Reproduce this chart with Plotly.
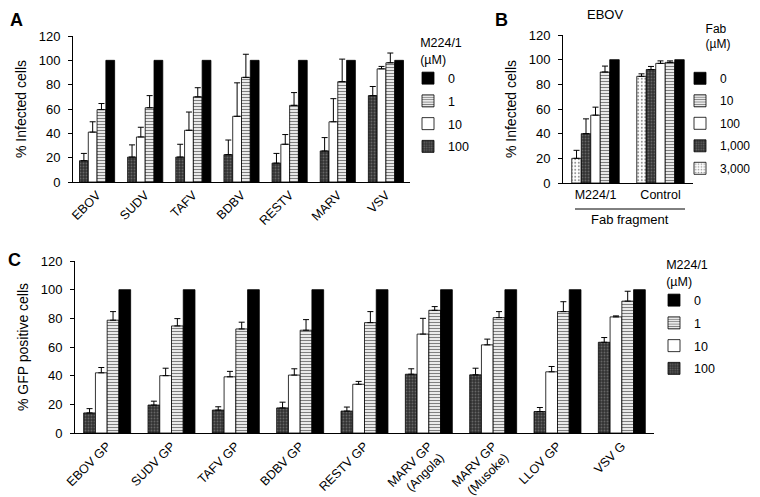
import plotly.graph_objects as go

W, H = 760, 497
FONT = "Liberation Sans, Arial, sans-serif"

# ---------------- Panel A data ----------------
a_cats = ["EBOV", "SUDV", "TAFV", "BDBV", "RESTV", "MARV", "VSV"]
a_100 = [17.5, 20.5, 20.5, 22.5, 15.5, 25.5, 71]
a_100_err = [6, 10, 10.5, 12, 8, 11, 7.5]
a_10 = [41, 37, 42.5, 54, 31, 49.5, 93]
a_10_err = [8.5, 8, 15, 27.5, 8, 19, 2]
a_1 = [59.5, 61, 70, 86, 63, 82.5, 98]
a_1_err = [5, 10, 7.5, 19, 10.5, 18.5, 8]
a_0 = [100, 100, 100, 100, 100, 100, 100]

# ---------------- Panel B data ----------------
b_cats = ["M224/1", "Control"]
b_3000 = [20, 86.5]
b_3000_err = [6.5, 2]
b_1000 = [40, 92]
b_1000_err = [12, 2.5]
b_100 = [55, 97]
b_100_err = [6.5, 2]
b_10 = [90, 97.8]
b_10_err = [4.8, 1.2]
b_0 = [100, 100]

# ---------------- Panel C data ----------------
c_cats = ["EBOV GP", "SUDV GP", "TAFV GP", "BDBV GP", "RESTV GP",
          "MARV GP<br>(Angola)", "MARV GP<br>(Musoke)", "LLOV GP", "VSV G"]
c_100 = [14, 19.5, 16, 17.5, 15.3, 41, 40.6, 15, 63.3]
c_100_err = [3, 2.7, 2.3, 4, 2.8, 3.8, 4.6, 2.8, 3.3]
c_10 = [42, 40, 39.2, 40.4, 34, 69, 61.5, 42.7, 81]
c_10_err = [3.7, 5.2, 3.8, 4.4, 2, 11, 4, 3.7, 0.7]
c_1 = [78.7, 74.7, 72.6, 71.7, 77, 85.6, 80.5, 84.7, 92]
c_1_err = [6, 5.1, 4.7, 7.4, 7.7, 2.6, 4.2, 6.9, 6.9]
c_0 = [100, 100, 100, 100, 100, 100, 100, 100, 100]


def fx(p):
    return p / W


def fy(p):
    return 1 - p / H


STYLES = {
    "black": dict(color="black"),
    "stripe": dict(color="white", pattern=dict(shape="-", fgcolor="black", bgcolor="white",
                                                 size=3, solidity=0.45)),
    "white": dict(color="white"),
    "dark": dict(color="#333333", pattern=dict(shape=".", fgcolor="#999999", bgcolor="#333333",
                                                size=3, solidity=0.3)),
    "dots": dict(color="white", pattern=dict(shape=".", fgcolor="#222222", bgcolor="white",
                                              size=3.5, solidity=0.25)),
}

fig = go.Figure()


def add_bar(x, y, err, name, style, xa, ya, legend, rank):
    marker = dict(STYLES[style])
    marker["line"] = dict(color="black", width=0.8)
    kw = {}
    if err is not None:
        kw["error_y"] = dict(type="data", symmetric=False, array=err,
                             arrayminus=[0] * len(err), color="black",
                             thickness=1, width=3)
    fig.add_trace(go.Bar(x=x, y=y, name=name, marker=marker, xaxis=xa, yaxis=ya,
                         legend=legend, legendgroup=legend + name, legendrank=rank, **kw))


# Panel A
add_bar(a_cats, a_100, a_100_err, "100", "dark", "x", "y", "legend", 4)
add_bar(a_cats, a_10, a_10_err, "10", "white", "x", "y", "legend", 3)
add_bar(a_cats, a_1, a_1_err, "1", "stripe", "x", "y", "legend", 2)
add_bar(a_cats, a_0, None, "0", "black", "x", "y", "legend", 1)

# Panel B
add_bar(b_cats, b_3000, b_3000_err, "3,000", "dots", "x2", "y2", "legend2", 5)
add_bar(b_cats, b_1000, b_1000_err, "1,000", "dark", "x2", "y2", "legend2", 4)
add_bar(b_cats, b_100, b_100_err, "100", "white", "x2", "y2", "legend2", 3)
add_bar(b_cats, b_10, b_10_err, "10", "stripe", "x2", "y2", "legend2", 2)
add_bar(b_cats, b_0, None, "0", "black", "x2", "y2", "legend2", 1)

# Panel C
add_bar(c_cats, c_100, c_100_err, "100", "dark", "x3", "y3", "legend3", 4)
add_bar(c_cats, c_10, c_10_err, "10", "white", "x3", "y3", "legend3", 3)
add_bar(c_cats, c_1, c_1_err, "1", "stripe", "x3", "y3", "legend3", 2)
add_bar(c_cats, c_0, None, "0", "black", "x3", "y3", "legend3", 1)

titlefont = dict(family=FONT, size=14, color="black")


def xax(domain, anchor, angle):
    return dict(domain=domain, anchor=anchor, showline=True, linecolor="black", linewidth=1,
                ticks="", showgrid=False, tickfont=dict(family=FONT, size=12.5, color="black"),
                tickangle=angle, zeroline=False, automargin=False)


def yax(domain, anchor, title):
    return dict(domain=domain, anchor=anchor, range=[0, 120], dtick=20, showline=True,
                linecolor="black", linewidth=1, ticks="outside", ticklen=4, tickcolor="black",
                showgrid=False, zeroline=False, tickfont=dict(family=FONT, size=13, color="black"),
                ticklabelstandoff=5, automargin=False,
                title=dict(text=title, font=titlefont, standoff=8))


def leg(x, y, title, size=12.5):
    return dict(x=fx(x), y=fy(y), xanchor="left", yanchor="top", bgcolor="rgba(0,0,0,0)",
                font=dict(family=FONT, size=size, color="black"),
                title=dict(text=title, side="top center",
                           font=dict(family=FONT, size=size, color="black")),
                traceorder="grouped", tracegroupgap=3.5, itemwidth=30)


fig.update_layout(
    width=W, height=H,
    margin=dict(l=0, r=0, t=0, b=0, autoexpand=False),
    paper_bgcolor="white", plot_bgcolor="white",
    font=dict(family=FONT, size=12, color="black"),
    barmode="group", bargap=0.27, bargroupgap=0,
    xaxis=xax([fx(65), fx(402)], "y", -45),
    yaxis=yax([fy(174), fy(28)], "x", "% Infected cells"),
    xaxis2=xax([fx(555), fx(685)], "y2", 0),
    yaxis2=yax([fy(175), fy(27)], "x2", "% Infected cells"),
    xaxis3=xax([fx(67), fx(646)], "y3", -45),
    yaxis3=yax([fy(425), fy(253)], "x3", "% GFP positive cells"),
    legend=leg(400, 23, "M224/1<br>(µM)"),
    legend2=leg(672, 9, "Fab<br>(µM)<br>\u00a0", size=12),
    legend3=leg(646, 245, "M224/1<br>(µM)"),
    showlegend=True,
)

annots = [
    dict(text="<b>A</b>", x=fx(8), y=fy(0), size=18),
    dict(text="<b>B</b>", x=fx(493), y=fy(0), size=18),
    dict(text="<b>C</b>", x=fx(7), y=fy(240), size=18),
]
for a in annots:
    fig.add_annotation(text=a["text"], x=a["x"], y=a["y"], xref="paper", yref="paper",
                       showarrow=False, xanchor="center", yanchor="top",
                       font=dict(family=FONT, size=a["size"], color="black"))

for text, x, y in [("EBOV", 597, 7), ("Fab fragment", 622, 211)]:
    fig.add_annotation(text=text, x=fx(x), y=fy(y), xref="paper", yref="paper",
                       showarrow=False, xanchor="center", yanchor="middle",
                       font=dict(family=FONT, size=13, color="black"))

fig.add_shape(type="line", xref="paper", yref="paper", x0=fx(567), x1=fx(677),
              y0=fy(201), y1=fy(201), line=dict(color="black", width=1))

fig.write_html("out.html")
